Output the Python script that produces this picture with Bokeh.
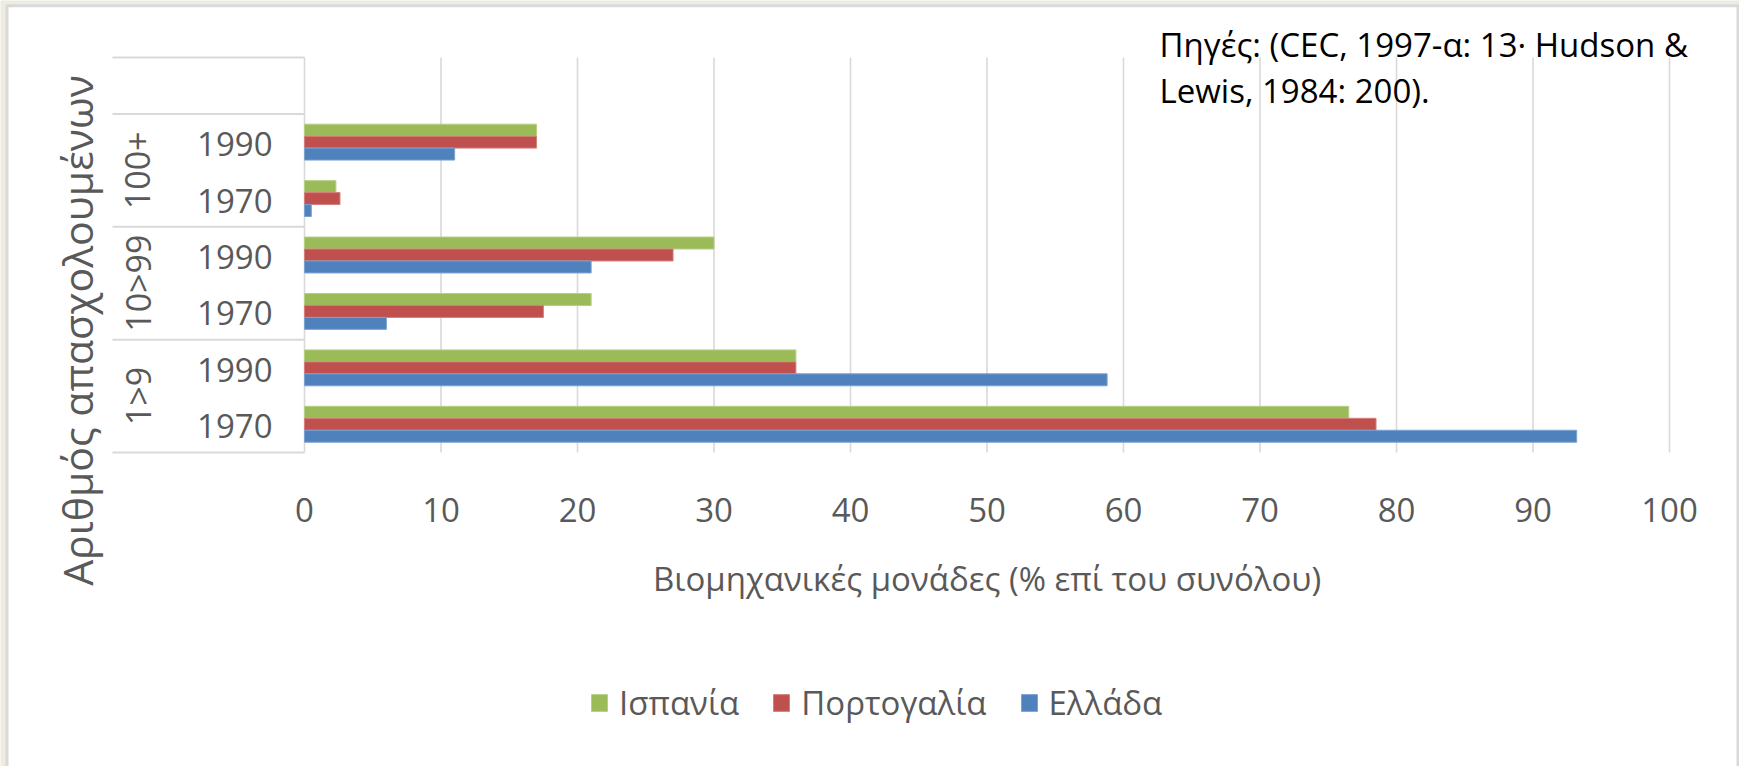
import math
from bokeh.plotting import figure
from bokeh.models import Range1d, Legend, LegendItem
from bokeh.embed import file_html
from bokeh.resources import INLINE
from bokeh.core.properties import value

# ---------------- data ----------------
groups = ["1>9", "1>9", "10>99", "10>99", "100+", "100+"]
years = ["1970", "1990", "1970", "1990", "1970", "1990"]
spain = [76.5, 36.0, 21.0, 30.0, 2.3, 17.0]
portugal = [78.5, 36.0, 17.5, 27.0, 2.6, 17.0]
greece = [93.2, 58.8, 6.0, 21.0, 0.5, 11.0]
series_names = ["Ισπανία", "Πορτογαλία", "Ελλάδα"]
x_ticks = [0, 10, 20, 30, 40, 50, 60, 70, 80, 90, 100]
x_title = "Βιομηχανικές μονάδες (% επί του συνόλου)"
y_title = "Αριθμός απασχολουμένων"
source_lines = ["Πηγές: (CEC, 1997-α: 13· Hudson &", "Lewis, 1984: 200)."]

# ---------------- style / layout (pixels) ----------------
FONT = value("Open Sans")
GRAY = "#595959"
GRID = "#D9D9D9"
COLORS = ["#9BBB59", "#C0504D", "#4F81BD"]
EDGES = ["#B5CF85", "#D47F7C", "#7CA2D0"]

W, H = 1739, 766
PX_LEFT, PX_RIGHT = 304, 1669      # x = 0 and x = 100
PX_TOP, PX_BOTTOM = 57, 452        # top of empty slot and bottom of first row
n_slots = len(years) + 1           # one empty slot above the data
XMAX = x_ticks[-1]
sx = (PX_RIGHT - PX_LEFT) / XMAX   # px per data unit (x)
sy = (PX_BOTTOM - PX_TOP) / n_slots
SHIFT_H = 13                       # svg baseline correction, horizontal text
SHIFT_V = 16                       # svg baseline correction, rotated text


def X(px):
    return (px - PX_LEFT) / sx


def Y(py):
    return (PX_BOTTOM - py) / sy


p = figure(width=W, height=H, output_backend="svg", toolbar_location=None,
           x_range=Range1d(X(0), X(W)), y_range=Range1d(Y(H), Y(0)),
           x_axis_location=None, y_axis_location=None,
           min_border=0)
p.outline_line_color = None
p.background_fill_color = "#EEECE1"
p.border_fill_color = "#EEECE1"
p.grid.visible = False

# white chart panel with thin gray frame
p.quad(left=X(6.5), right=X(1737.5), top=Y(5.3), bottom=Y(H + 10),
       fill_color="white", line_color=GRID, line_width=3)

# vertical gridlines (incl. value axis line at 0)
p.segment(x0=x_ticks, x1=x_ticks, y0=0, y1=n_slots, line_color=GRID, line_width=1.6)

# category table lines
bounds = [0, 2, 4, 6, n_slots]
p.segment(x0=X(112), x1=0, y0=bounds, y1=bounds, line_color=GRID, line_width=2)

# bars
centers = [i + 0.5 for i in range(len(years))]
bar_h = 0.212
renderers = []
for k, (vals, col, edge) in enumerate(zip([spain, portugal, greece], COLORS, EDGES)):
    off = bar_h * (1 - k)
    r = p.hbar(y=[c + off for c in centers], left=0, right=vals, height=bar_h,
               fill_color=col, line_color=edge, line_width=1)
    renderers.append(r)

# x tick labels
p.text(x=x_ticks, y=[Y(522 - SHIFT_H)] * len(x_ticks), text=[str(t) for t in x_ticks],
       text_align="center", text_baseline="alphabetic", text_font=FONT,
       text_font_size="33px", text_color=GRAY)

# x title
p.text(x=[XMAX / 2], y=[Y(592 - SHIFT_H - 1)], text=[x_title], text_align="center",
       text_baseline="alphabetic", text_font=FONT, text_font_size="33px",
       text_color=GRAY)

# year labels
p.text(x=[X(272)] * len(years), y=[c - (15 - SHIFT_H) / sy for c in centers], text=years,
       text_align="right", text_baseline="alphabetic", text_font=FONT,
       text_font_size="33px", text_color=GRAY)

# group labels (rotated)
uniq = []
for g in groups:
    if g not in uniq:
        uniq.append(g)
gcent = []
for g in uniq:
    idx = [i for i, gg in enumerate(groups) if gg == g]
    gcent.append(sum(centers[i] for i in idx) / len(idx))
p.text(x=[X(153 - SHIFT_V)] * len(uniq), y=gcent, text=uniq, angle=math.pi / 2,
       text_align="center", text_baseline="alphabetic", text_font=FONT,
       text_font_size="34px", text_color=GRAY)

# y title
p.text(x=[X(97 - SHIFT_V - 5)], y=[Y(330)], text=[y_title], angle=math.pi / 2,
       text_align="center", text_baseline="alphabetic", text_font=FONT,
       text_font_size="41px", text_color=GRAY)

# source note
p.text(x=[X(1159)] * 2, y=[Y(55 - SHIFT_H + 2), Y(100 - SHIFT_H + 3)], text=source_lines,
       text_align="left", text_baseline="alphabetic", text_font=FONT,
       text_font_size="33px", text_color="black")

# legend
legend = Legend(items=[LegendItem(label=n, renderers=[r]) for n, r in zip(series_names, renderers)],
                orientation="horizontal", location=(589, H - 725),
                glyph_width=20, glyph_height=21, label_standoff=10, spacing=32,
                padding=0, margin=0, border_line_color=None,
                background_fill_alpha=0,
                label_text_font="Open Sans", label_text_font_size="33px",
                label_text_color=GRAY)
p.add_layout(legend, "center")

open("out.html", "w").write(file_html(p, INLINE))
